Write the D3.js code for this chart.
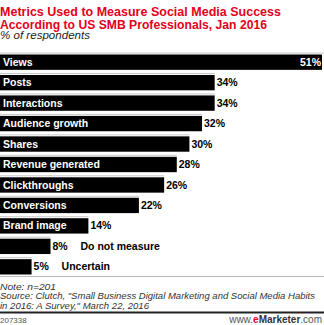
<!DOCTYPE html>
<html><head><meta charset="utf-8">
<script src="https://cdn.jsdelivr.net/npm/d3@7"></script>
<style>body{margin:0;background:#fff}svg{display:block}text{font-family:"Liberation Sans",Arial,sans-serif}</style>
</head><body><svg id="c" width="324" height="325"></svg>
<script>
const categories = ["Views","Posts","Interactions","Audience growth","Shares","Revenue generated","Clickthroughs","Conversions","Brand image","Do not measure","Uncertain"];
const values = [51,34,34,32,30,28,26,22,14,8,5];
const outsideLabel = ["Do not measure","Uncertain"];
const titleLines = ["Metrics Used to Measure Social Media Success","According to US SMB Professionals, Jan 2016"];
const titleWidths = [281,267];
const subtitle = "% of respondents";
const noteLines = ["Note: n=201","Source: Clutch, \"Small Business Digital Marketing and Social Media Habits","in 2016: A Survey,\" March 22, 2016"];
const noteWidths = [56,315,149];

const svg = d3.select("#c");
const x = d3.scaleLinear().domain([0,51]).range([0,322]);
const y = d3.scaleBand().domain(categories).range([54.5,274.5]).paddingInner(0.25).paddingOuter(0);

// title
svg.selectAll("text.title").data(titleLines).join("text").attr("class","title")
  .attr("x",0).attr("y",(d,i)=>16+i*13.3).attr("fill","#e3001b")
  .attr("font-weight","bold").attr("font-size",12.2)
  .attr("textLength",(d,i)=>titleWidths[i]).attr("lengthAdjust","spacingAndGlyphs").text(d=>d);
svg.append("text").attr("x",0).attr("y",38.5).attr("font-style","italic").attr("font-size",11.2).attr("fill","#222")
  .attr("textLength",90).attr("lengthAdjust","spacingAndGlyphs").text(subtitle);

// bars
const g = svg.append("g");
g.selectAll("rect.top").data(categories).join("rect").attr("class","top")
  .attr("x",0).attr("y",d=>y(d)-2).attr("height",1)
  .attr("width",(d,i)=> i===0 ? 324 : x(values[i])).attr("fill","#c8c8c8");
g.selectAll("rect.bar").data(categories).join("rect").attr("class","bar")
  .attr("x",0).attr("y",d=>y(d)).attr("height",y.bandwidth())
  .attr("width",(d,i)=>x(values[i])).attr("fill","#000");
// in-bar labels
g.selectAll("text.cat").data(categories.filter(c=>!outsideLabel.includes(c))).join("text").attr("class","cat")
  .attr("x",3).attr("y",d=>y(d)+y.bandwidth()/2+3.6).attr("fill","#fff")
  .attr("font-weight","bold").attr("font-size",10.5).text(d=>d);
// values
g.selectAll("text.val").data(categories).join("text").attr("class","val")
  .attr("x",(d,i)=> i===0 ? 321 : x(values[i])+2)
  .attr("text-anchor",(d,i)=> i===0 ? "end":"start")
  .attr("y",d=>y(d)+y.bandwidth()/2+3.6)
  .attr("fill",(d,i)=> i===0 ? "#fff":"#000")
  .attr("font-weight","bold").attr("font-size",10.5).text((d,i)=>values[i]+"%");
// outside category labels
g.selectAll("text.out").data(outsideLabel).join("text").attr("class","out")
  .attr("x",d=>x(values[categories.indexOf(d)])+30).attr("y",d=>y(d)+y.bandwidth()/2+3.6)
  .attr("fill","#000").attr("font-weight","bold").attr("font-size",10.5).text(d=>d);

// footer
svg.append("rect").attr("x",0).attr("y",276).attr("width",324).attr("height",1).attr("fill","#bbb");
svg.selectAll("text.note").data(noteLines).join("text").attr("class","note")
  .attr("x",0).attr("y",(d,i)=>289.5+i*9.6).attr("font-style","italic").attr("font-size",9.3).attr("fill","#333")
  .attr("textLength",(d,i)=>noteWidths[i]).attr("lengthAdjust","spacingAndGlyphs").text(d=>d);
svg.append("rect").attr("x",0).attr("y",311.5).attr("width",324).attr("height",2).attr("fill","#222");
svg.append("text").attr("x",0).attr("y",322.5).attr("font-size",8).attr("fill","#555").text("207338");
const em = svg.append("text").attr("x",322).attr("y",322.5).attr("text-anchor","end").attr("font-size",10).attr("fill","#555");
em.append("tspan").text("www.");
em.append("tspan").attr("fill","#e3001b").attr("font-weight","bold").text("e");
em.append("tspan").attr("fill","#333").attr("font-weight","bold").text("Marketer");
em.append("tspan").text(".com");
</script></body></html>
